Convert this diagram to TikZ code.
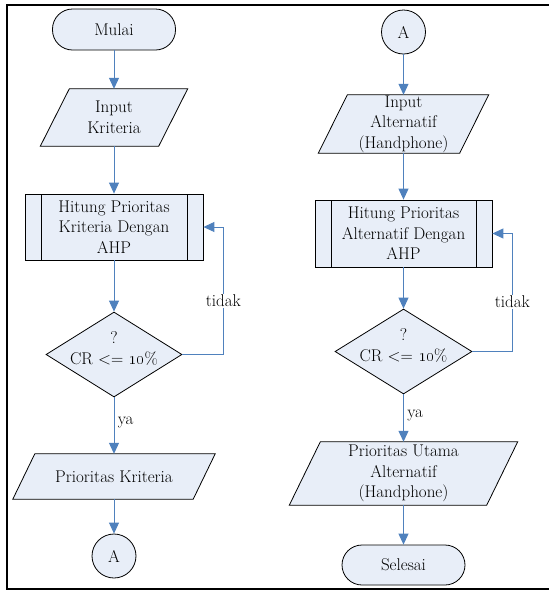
\documentclass[tikz,border=0pt]{standalone}
\usepackage{tikz}
\usetikzlibrary{shapes.geometric, arrows.meta, backgrounds}

\definecolor{boxfill}{RGB}{232,238,248}
\definecolor{linkblue}{RGB}{79,129,189}

\begin{document}
\begin{tikzpicture}[x=1pt, y=-1pt, >={Triangle[width=10pt,length=11pt]},
	every node/.style={font=\fontsize{17}{20.5}\selectfont, align=center},
	term/.style={draw, line width=0.8pt, fill=boxfill, rounded corners=20pt, minimum width=123pt, minimum height=41pt, inner sep=0pt},
	io/.style={inner sep=0pt},
	iobox/.style={draw, line width=0.8pt, fill=boxfill},
	proc/.style={draw, line width=0.8pt, fill=boxfill, minimum width=178pt, minimum height=66pt, inner sep=0pt,
		path picture={\draw[line width=0.8pt] ([xshift=16pt]path picture bounding box.north west) -- ([xshift=16pt]path picture bounding box.south west);
			\draw[line width=0.8pt] ([xshift=-16pt]path picture bounding box.north east) -- ([xshift=-16pt]path picture bounding box.south east);}},
	cond/.style={draw, line width=0.8pt, fill=boxfill, diamond, aspect=1.6, minimum width=136pt, minimum height=85pt, inner sep=0pt},
	conn/.style={draw, line width=0.8pt, fill=boxfill, circle, minimum size=44pt, inner sep=0pt},
	link/.style={->, draw=linkblue, line width=1pt}]

	\useasboundingbox (0,0) rectangle (549,590);
	\draw[line width=1.8pt] (549,5) -- (7,5) -- (7,589) -- (549,589);

	% Draw left column
	\node (mulai) [term] at (114,29.5) {Mulai};
	\node (in1) [io, minimum width=118pt, minimum height=57pt] at (114,117.5) {Input\\Kriteria};
	\node (h1) [proc] at (114,227) {Hitung Prioritas\\Kriteria Dengan\\AHP};
	\node (d1) [cond] at (114,354.5) {\smash{?}\\CR <= \oldstylenums{10}\%};
	\node (out1) [io, minimum width=180pt, minimum height=45pt] at (114,476.5) {Prioritas Kriteria};
	\node (a1) [conn] at (114,556) {A};

	% Draw right column
	\node (a2) [conn] at (403.5,32) {A};
	\node (in2) [io, minimum width=141pt, minimum height=58pt] at (403.5,124) {Input\\Alternatif\\(Handphone)};
	\node (h2) [proc, minimum width=177pt, minimum height=67pt] at (403.5,233.5) {Hitung Prioritas\\Alternatif Dengan\\AHP};
	\node (d2) [cond, minimum width=137pt] at (403.5,351.5) {\smash{?}\\CR <= \oldstylenums{10}\%};
	\node (out2) [io, minimum width=197pt, minimum height=63pt] at (403.5,473.5) {Prioritas Utama\\Alternatif\\(Handphone)};
	\node (selesai) [term, minimum height=40pt] at (403.5,565) {Selesai};

	% Draw parallelograms
	\begin{scope}[on background layer]
		\foreach \n/\s in {in1/14.5, out1/11, in2/14.5, out2/15.5}
			\draw[iobox] ([xshift=\s pt]\n.north west) -- ([xshift=\s pt]\n.north east)
				-- ([xshift=-\s pt]\n.south east) -- ([xshift=-\s pt]\n.south west) -- cycle;
	\end{scope}

	% Draw arrows
	\draw[link] (mulai.south) -- (in1.north);
	\draw[link] (in1.south) -- (h1.north);
	\draw[link] (h1.south) -- (d1.north);
	\draw[link] (d1.south) -- node[right, pos=0.45] {ya} (out1.north);
	\draw[link] (out1.south) -- (a1.north);
	\draw[link] (d1.east) -| node[fill=white, pos=0.71, inner sep=1pt] {tidak} ([xshift=20pt]h1.east) -- (h1.east);

	\draw[link] (a2.south) -- (in2.north);
	\draw[link] (in2.south) -- (h2.north);
	\draw[link] (h2.south) -- (d2.north);
	\draw[link] (d2.south) -- node[right, pos=0.45] {ya} (out2.north);
	\draw[link] (out2.south) -- (selesai.north);
	\draw[link] (d2.east) -| node[fill=white, pos=0.71, inner sep=1pt] {tidak} ([xshift=20pt]h2.east) -- (h2.east);

\end{tikzpicture}
\end{document}
